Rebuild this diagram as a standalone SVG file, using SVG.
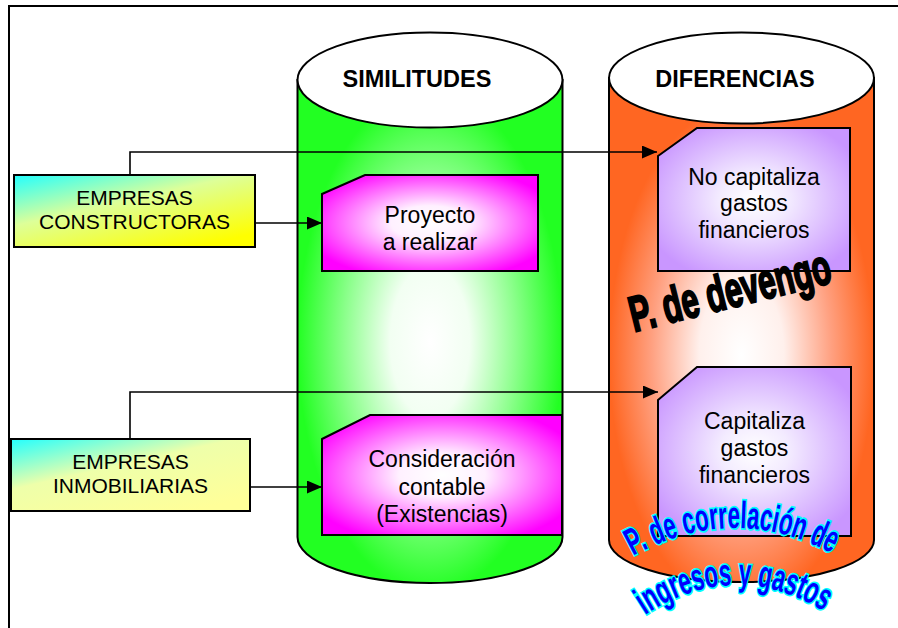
<svg xmlns="http://www.w3.org/2000/svg" width="898" height="628" viewBox="0 0 898 628">
  <defs>
    <style>
      .frame { fill: none; stroke: #000; stroke-width: 2; }
      .outline { stroke: #000; stroke-width: 2; }
      .cap { fill: #fff; stroke: #000; stroke-width: 2; }
      .box { stroke: #000; stroke-width: 2; }
      .head { font-family: "Liberation Sans", Arial, sans-serif; font-weight: bold; font-size: 23.5px; fill: #000; text-anchor: middle; }
      .lbl { font-family: "Liberation Sans", Arial, sans-serif; font-size: 23px; fill: #000; text-anchor: middle; }
      .lbl-s { font-family: "Liberation Sans", Arial, sans-serif; font-size: 21px; fill: #000; text-anchor: middle; }
      .conn { fill: none; stroke: #000; stroke-width: 1.6; }
      .devengo { font-family: "Liberation Sans", Arial, sans-serif; font-weight: bold; font-size: 50px; fill: #000; stroke: #000; stroke-width: 2.2; }
      .correl { font-family: "Liberation Sans", Arial, sans-serif; font-weight: bold; font-size: 38px; fill: #0000ff; stroke: #00ffff; stroke-width: 3.5; paint-order: stroke; }
    </style>
    <radialGradient id="gGreen" cx="0.5" cy="0.52" r="0.5">
      <stop offset="0" stop-color="#ffffff"/>
      <stop offset="0.3" stop-color="#f2fff2"/>
      <stop offset="0.65" stop-color="#8cff8c"/>
      <stop offset="1" stop-color="#22ff22"/>
    </radialGradient>
    <radialGradient id="gOrange" cx="0.5" cy="0.55" r="0.5">
      <stop offset="0" stop-color="#ffffff"/>
      <stop offset="0.32" stop-color="#fff0ec"/>
      <stop offset="0.68" stop-color="#ffa080"/>
      <stop offset="1" stop-color="#ff6622"/>
    </radialGradient>
    <radialGradient id="gMagenta" cx="0.5" cy="0.5" r="0.6">
      <stop offset="0" stop-color="#ffffff"/>
      <stop offset="0.3" stop-color="#fff0ff"/>
      <stop offset="1" stop-color="#ff00ff"/>
    </radialGradient>
    <radialGradient id="gPurple" cx="0.5" cy="0.5" r="0.6">
      <stop offset="0" stop-color="#ffffff"/>
      <stop offset="0.3" stop-color="#f3ebff"/>
      <stop offset="1" stop-color="#c996ff"/>
    </radialGradient>
    <linearGradient id="gCyanYellow" x1="0" y1="0" x2="0.75" y2="1">
      <stop offset="0" stop-color="#22ffff"/>
      <stop offset="0.45" stop-color="#ddff99"/>
      <stop offset="1" stop-color="#ffff00"/>
    </linearGradient>
    <linearGradient id="gCyanPale" x1="0" y1="0" x2="0.75" y2="1">
      <stop offset="0" stop-color="#22ffff"/>
      <stop offset="0.45" stop-color="#eeffaa"/>
      <stop offset="1" stop-color="#ffff99"/>
    </linearGradient>
    <marker id="arrow" markerWidth="15" markerHeight="13" refX="15" refY="6.5" orient="auto" markerUnits="userSpaceOnUse">
      <path d="M0,0 L15,6.5 L0,13 z" fill="#000"/>
    </marker>
  </defs>

  <!-- outer frame -->
  <g id="frame">
    <path class="frame" d="M9,630 V6 H900"/>
  </g>

  <!-- cylinder: SIMILITUDES -->
  <g id="cyl-similitudes">
    <path class="outline" fill="url(#gGreen)" d="M297.5,80 V537 A132.5,46 0 0 0 562.5,537 V80 Z"/>
    <ellipse class="cap" cx="430" cy="80" rx="132.5" ry="47.5"/>
    <text class="head" x="417" y="87">SIMILITUDES</text>
  </g>

  <!-- cylinder: DIFERENCIAS -->
  <g id="cyl-diferencias">
    <path class="outline" fill="url(#gOrange)" d="M609,78 V540 A132.5,42 0 0 0 874,540 V78 Z"/>
    <ellipse class="cap" cx="741.5" cy="78" rx="132.5" ry="45.5"/>
    <text class="head" x="735" y="87">DIFERENCIAS</text>
  </g>

  <!-- company boxes -->
  <g id="empresas-constructoras">
    <rect class="box" x="14" y="175" width="241" height="72" fill="url(#gCyanYellow)"/>
    <text class="lbl-s" x="134.5" y="205">EMPRESAS</text>
    <text class="lbl-s" x="134.5" y="229">CONSTRUCTORAS</text>
  </g>
  <g id="empresas-inmobiliarias">
    <rect class="box" x="11" y="439" width="239" height="72" fill="url(#gCyanPale)"/>
    <text class="lbl-s" x="130.5" y="469">EMPRESAS</text>
    <text class="lbl-s" x="130.5" y="493">INMOBILIARIAS</text>
  </g>

  <!-- similarity cards -->
  <g id="proyecto">
    <polygon class="box" fill="url(#gMagenta)" points="322,194 365,175 538,175 538,271 322,271"/>
    <text class="lbl" x="430" y="223">Proyecto</text>
    <text class="lbl" x="430" y="250">a realizar</text>
  </g>
  <g id="consideracion">
    <polygon class="box" fill="url(#gMagenta)" points="322,439 370,415 562,415 562,535 322,535"/>
    <text class="lbl" x="442" y="467">Consideración</text>
    <text class="lbl" x="442" y="495">contable</text>
    <text class="lbl" x="442" y="522">(Existencias)</text>
  </g>

  <!-- difference cards -->
  <g id="no-capitaliza">
    <polygon class="box" fill="url(#gPurple)" points="658,156 697,128 850,128 850,271 658,271"/>
    <text class="lbl" x="754" y="185">No capitaliza</text>
    <text class="lbl" x="754" y="211">gastos</text>
    <text class="lbl" x="754" y="238">financieros</text>
  </g>
  <g id="capitaliza">
    <polygon class="box" fill="url(#gPurple)" points="658,400 697,367 851,367 851,536 658,536"/>
    <text class="lbl" x="754.5" y="429">Capitaliza</text>
    <text class="lbl" x="754.5" y="455.5">gastos</text>
    <text class="lbl" x="754.5" y="483">financieros</text>
  </g>

  <!-- connectors -->
  <g id="connectors">
    <path class="conn" d="M130,175 V152 H657" marker-end="url(#arrow)"/>
    <path class="conn" d="M255,223 H322" marker-end="url(#arrow)"/>
    <path class="conn" d="M130,439 V392 H658" marker-end="url(#arrow)"/>
    <path class="conn" d="M250,487 H322" marker-end="url(#arrow)"/>
  </g>

  <!-- principle labels -->
  <g id="devengo">
    <text class="devengo" transform="translate(634,332) rotate(-14)" x="0" y="0" textLength="206" lengthAdjust="spacingAndGlyphs">P. de devengo</text>
  </g>
  <g id="correlacion">
    <path id="arc1" d="M633,556 Q735,500 837,556" fill="none"/>
    <path id="arc2" d="M645,615 Q735,556 827,613" fill="none"/>
    <text class="correl"><textPath href="#arc1" textLength="208" lengthAdjust="spacingAndGlyphs">P. de correlación de</textPath></text>
    <text class="correl"><textPath href="#arc2" textLength="190" lengthAdjust="spacingAndGlyphs">ingresos y gastos</textPath></text>
  </g>
</svg>
